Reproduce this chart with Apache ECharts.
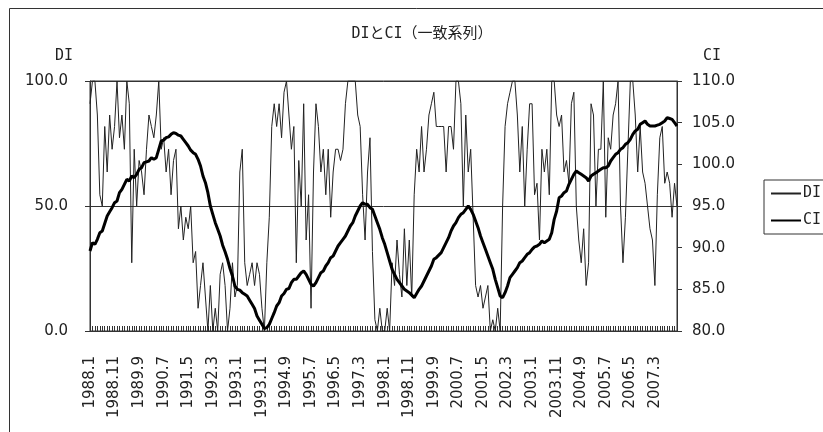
<!DOCTYPE html>
<html><head><meta charset="utf-8">
<script src="https://cdn.jsdelivr.net/npm/echarts@6/dist/echarts.min.js"></script>
<style>html,body{margin:0;padding:0;background:#fff}#c{width:823px;height:432px}</style>
</head><body><div id="c"></div>
<script>
const startYear = 1988, endYear = 2007;
const categories = [];
for (let y = startYear; y <= endYear; y++) for (let m = 1; m <= 12; m++) categories.push(y + '.' + m);

const diValues = [
  90.9, 100, 100, 86.4, 54.5, 50, 81.8, 63.6, 86.4, 72.7, 81.8, 100,
  77.3, 86.4, 72.7, 100, 90.9, 27.3, 72.7, 50, 68.2, 63.6, 54.5, 72.7,
  86.4, 81.8, 77.3, 86.4, 100, 72.7, 77.3, 63.6, 72.7, 54.5, 68.2, 72.7,
  40.9, 50, 36.4, 45.5, 40.9, 50, 27.3, 31.8, 9.1, 18.2, 27.3, 13.6,
  0, 18.2, 0, 9.1, 0, 22.7, 27.3, 18.2, 0, 9.1, 27.3, 13.6,
  18.2, 63.6, 72.7, 27.3, 18.2, 22.7, 27.3, 18.2, 27.3, 22.7, 9.1, 0,
  27.3, 45.5, 81.8, 90.9, 81.8, 90.9, 77.3, 95.5, 100, 86.4, 72.7, 81.8,
  27.3, 68.2, 50, 90.9, 36.4, 54.5, 9.1, 63.6, 90.9, 81.8, 63.6, 72.7,
  54.5, 72.7, 45.5, 63.6, 72.7, 72.7, 68.2, 72.7, 90.9, 100, 100, 100,
  100, 86.4, 81.8, 54.5, 36.4, 63.6, 77.3, 31.8, 4.5, 0, 9.1, 0,
  0, 9.1, 0, 27.3, 18.2, 36.4, 22.7, 13.6, 40.9, 18.2, 36.4, 13.6,
  54.5, 72.7, 63.6, 81.8, 63.6, 72.7, 86.4, 90.9, 95.5, 81.8, 81.8, 81.8,
  81.8, 63.6, 81.8, 81.8, 72.7, 100, 100, 90.9, 50, 86.4, 63.6, 72.7,
  45.5, 18.2, 13.6, 18.2, 9.1, 13.6, 18.2, 0, 4.5, 0, 9.1, 0,
  50, 81.8, 90.9, 95.5, 100, 100, 86.4, 63.6, 81.8, 50, 72.7, 90.9,
  90.9, 54.5, 59.1, 36.4, 72.7, 63.6, 72.7, 54.5, 100, 100, 86.4, 81.8,
  86.4, 63.6, 68.2, 59.1, 90.9, 95.5, 50, 36.4, 27.3, 40.9, 18.2, 27.3,
  90.9, 86.4, 50, 72.7, 72.7, 100, 45.5, 77.3, 72.7, 86.4, 90.9, 100,
  50, 27.3, 45.5, 72.7, 100, 100, 86.4, 63.6, 81.8, 63.6, 59.1, 50,
  40.9, 36.4, 18.2, 54.5, 77.3, 81.8, 59.1, 63.6, 59.1, 45.5, 59.1, 50
];

const ciValues = [
  89.6, 90.6, 90.4, 91.0, 91.8, 92.0, 92.9, 93.8, 94.3, 94.8, 95.4, 95.6,
  96.6, 97.0, 97.6, 98.2, 98.0, 98.6, 98.4, 98.8, 99.4, 99.6, 100.2, 100.3,
  100.4, 100.8, 100.6, 100.8, 101.8, 102.8, 102.9, 103.2, 103.3, 103.6, 103.8, 103.7,
  103.5, 103.4, 103.0, 102.6, 102.2, 101.7, 101.4, 101.2, 100.6, 99.8, 98.6, 97.8,
  96.6, 95.0, 94.0, 93.0, 92.2, 91.4, 90.3, 89.5, 88.6, 87.5, 86.6, 85.4,
  85.0, 84.9, 84.6, 84.4, 84.2, 83.7, 83.2, 82.7, 81.8, 81.3, 80.8, 80.3,
  80.4, 80.8, 81.5, 82.2, 83.0, 83.4, 84.2, 84.5, 85.0, 85.1, 85.8, 86.2,
  86.2, 86.6, 87.0, 87.2, 86.8, 86.2, 85.6, 85.4, 85.8, 86.4, 87.0, 87.2,
  87.8, 88.2, 88.8, 89.0, 89.6, 90.2, 90.6, 91.0, 91.4, 92.0, 92.6, 93.0,
  93.8, 94.4, 95.0, 95.4, 95.2, 95.2, 94.8, 94.6, 93.8, 93.0, 92.2, 91.2,
  90.4, 89.4, 88.4, 87.4, 86.8, 86.2, 85.8, 85.4, 85.0, 84.8, 84.6, 84.3,
  84.0, 84.5, 85.0, 85.4, 86.0, 86.6, 87.2, 87.8, 88.6, 88.8, 89.1, 89.4,
  90.0, 90.6, 91.2, 92.0, 92.6, 93.0, 93.6, 94.0, 94.2, 94.6, 95.0, 94.6,
  94.0, 93.2, 92.4, 91.4, 90.6, 89.8, 89.0, 88.2, 87.4, 86.2, 85.2, 84.2,
  84.0, 84.6, 85.4, 86.4, 86.8, 87.2, 87.6, 88.2, 88.4, 88.8, 89.2, 89.4,
  89.8, 90.1, 90.2, 90.4, 90.8, 90.6, 90.8, 91.0, 91.8, 93.4, 94.4, 96.0,
  96.2, 96.6, 96.8, 97.6, 98.2, 98.8, 99.2, 99.0, 98.8, 98.6, 98.4, 98.0,
  98.6, 98.8, 99.0, 99.2, 99.4, 99.6, 99.6, 99.8, 100.4, 100.8, 101.2, 101.4,
  101.8, 102.0, 102.4, 102.6, 103.0, 103.6, 104.0, 104.2, 104.8, 105.0, 105.2, 104.8,
  104.6, 104.6, 104.6, 104.7, 104.8, 105.0, 105.2, 105.6, 105.5, 105.4, 105.0, 104.6
];

const seriesNames = ['DI', 'CI'];
const chartTitle = 'DIとCI（一致系列）';
const monoCjk = "'DejaVu Sans Mono','Noto Sans CJK JP',monospace";
const numFont = "'DejaVu Sans',sans-serif";
const ink = '#222';

const chart = echarts.init(document.getElementById('c'), null, {renderer: 'canvas'});
chart.setOption({
  animation: false,
  backgroundColor: '#fff',
  graphic: [{
    type: 'rect', silent: true, z: -1,
    shape: {x: 9.5, y: 8.5, width: 900, height: 500},
    style: {fill: 'none', stroke: '#333', lineWidth: 1}
  }],
  title: [
    {text: chartTitle, left: 422, top: 27, textAlign: 'center', padding: 0,
     textStyle: {fontFamily: monoCjk, fontSize: 15, fontWeight: 'normal', color: ink}},
    {text: 'DI', left: 55, top: 49, padding: 0,
     textStyle: {fontFamily: monoCjk, fontSize: 15, fontWeight: 'normal', color: ink}},
    {text: 'CI', left: 703, top: 49, padding: 0,
     textStyle: {fontFamily: monoCjk, fontSize: 15, fontWeight: 'normal', color: ink}}
  ],
  legend: {
    orient: 'vertical', left: 764, top: 180,
    data: seriesNames,
    borderColor: '#333', borderWidth: 1, borderRadius: 0,
    padding: [6, 20, 6, 6],
    itemWidth: 30, itemHeight: 14, itemGap: 12,
    itemStyle: {opacity: 0},
    textStyle: {fontFamily: monoCjk, fontSize: 15, color: ink, padding: [0, 0, 0, -3]}
  },
  grid: {left: 90, right: 146, top: 81, bottom: 101, show: true, borderColor: '#333', borderWidth: 1},
  xAxis: {
    type: 'category', data: categories, boundaryGap: false,
    axisLine: {lineStyle: {color: '#333'}},
    axisTick: {inside: true, interval: 0, length: 5, lineStyle: {color: '#333'}},
    axisLabel: {interval: 9, rotate: 90, margin: 25, fontSize: 15, fontFamily: numFont, color: ink},
    splitLine: {show: false}
  },
  yAxis: [
    {type: 'value', min: 0, max: 100, interval: 50, position: 'left',
     axisLine: {show: true, lineStyle: {color: '#333'}},
     axisTick: {show: true, length: 5, lineStyle: {color: '#333'}},
     axisLabel: {margin: 22, fontSize: 15, fontFamily: numFont, color: ink, formatter: v => v.toFixed(1)},
     splitLine: {show: true, lineStyle: {color: '#333', width: 1}}},
    {type: 'value', min: 80, max: 110, interval: 5, position: 'right',
     axisLine: {show: true, lineStyle: {color: '#333'}},
     axisTick: {show: true, length: 5, lineStyle: {color: '#333'}},
     axisLabel: {margin: 15, fontSize: 15, fontFamily: numFont, color: ink, formatter: v => v.toFixed(1)},
     splitLine: {show: false}}
  ],
  series: [
    {name: seriesNames[0], type: 'line', yAxisIndex: 0, data: diValues, symbol: 'none',
     lineStyle: {width: 1, color: '#222'}, itemStyle: {color: '#222'}, z: 2},
    {name: seriesNames[1], type: 'line', yAxisIndex: 1, data: ciValues, symbol: 'none',
     lineStyle: {width: 3, color: '#000'}, itemStyle: {color: '#000'}, z: 3}
  ]
});
</script></body></html>
